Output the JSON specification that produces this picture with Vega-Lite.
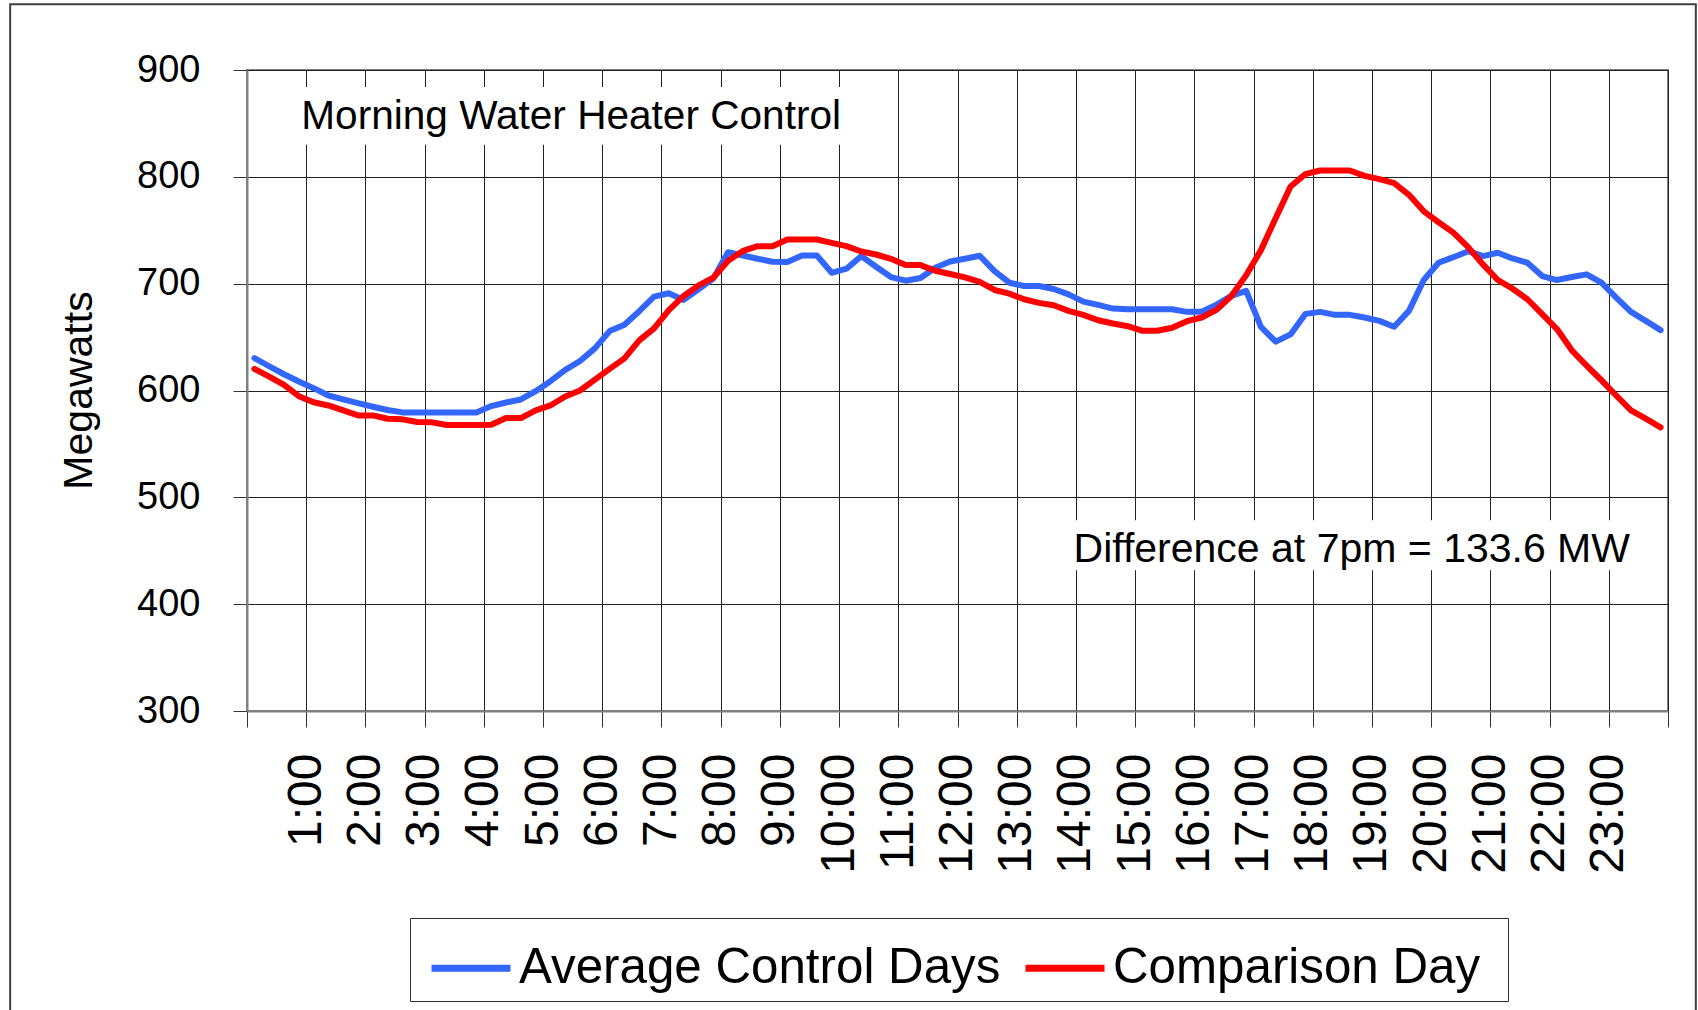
{
  "$schema": "https://vega.github.io/schema/vega-lite/v6.json",
  "width": 1421,
  "height": 641,
  "autosize": {"type": "none"},
  "padding": {"left": 247, "top": 70, "right": 30, "bottom": 299},
  "background": "white",
  "config": {
    "font": "Liberation Sans",
    "view": {"stroke": "#808080", "strokeWidth": 2},
    "axis": {"labelColor": "black", "tickColor": "#333333", "gridColor": "#222222", "gridWidth": 1, "domainColor": "#808080", "domainWidth": 2}
  },
  "layer": [
    {
      "data": {"values": [{}]},
      "mark": {"type": "rect", "fillOpacity": 0, "stroke": "#404040", "strokeWidth": 2},
      "encoding": {
        "x": {"datum": -4.0, "type": "quantitative"},
        "x2": {"datum": 24.47},
        "y": {"datum": 961.5, "type": "quantitative"},
        "y2": {"datum": 0}
      }
    },
    {
      "data": {
        "values": [
          {"t":0.125,"avg":630.4,"cmp":620.2},{"t":0.375,"avg":622.7,"cmp":613},{"t":0.625,"avg":615.2,"cmp":605.3},{"t":0.875,"avg":608.4,"cmp":594.7},
          {"t":1.125,"avg":602.2,"cmp":589},{"t":1.375,"avg":595.3,"cmp":586},{"t":1.625,"avg":591.6,"cmp":581.4},{"t":1.875,"avg":588.2,"cmp":576.7},
          {"t":2.125,"avg":584.8,"cmp":576.7},{"t":2.375,"avg":581.7,"cmp":573.6},{"t":2.625,"avg":579.5,"cmp":573},{"t":2.875,"avg":579.5,"cmp":570.5},
          {"t":3.125,"avg":579.5,"cmp":570.2},{"t":3.375,"avg":579.5,"cmp":567.7},{"t":3.625,"avg":579.5,"cmp":567.7},{"t":3.875,"avg":579.5,"cmp":567.7},
          {"t":4.125,"avg":585.4,"cmp":568},{"t":4.375,"avg":588.8,"cmp":574.2},{"t":4.625,"avg":591.6,"cmp":574.2},{"t":4.875,"avg":599.4,"cmp":581.4},
          {"t":5.125,"avg":608.7,"cmp":586},{"t":5.375,"avg":619.3,"cmp":594.4},{"t":5.625,"avg":627.6,"cmp":600},{"t":5.875,"avg":639.4,"cmp":610.2},
          {"t":6.125,"avg":655.6,"cmp":620.2},{"t":6.375,"avg":661.5,"cmp":630.1},{"t":6.625,"avg":674.2,"cmp":646.9},{"t":6.875,"avg":687.9,"cmp":658.1},
          {"t":7.125,"avg":691,"cmp":675.2},{"t":7.375,"avg":684.8,"cmp":688.5},{"t":7.625,"avg":694.7,"cmp":698.4},{"t":7.875,"avg":704.7,"cmp":705.6},
          {"t":8.125,"avg":729.5,"cmp":721.4},{"t":8.375,"avg":726.4,"cmp":730.7},{"t":8.625,"avg":723.3,"cmp":735.1},{"t":8.875,"avg":720.5,"cmp":735.1},
          {"t":9.125,"avg":720.2,"cmp":741.3},{"t":9.375,"avg":726.4,"cmp":741.3},{"t":9.625,"avg":726.4,"cmp":741.3},{"t":9.875,"avg":710.2,"cmp":738.2},
          {"t":10.125,"avg":714,"cmp":735.1},{"t":10.375,"avg":725.8,"cmp":730.1},{"t":10.625,"avg":715.8,"cmp":727.3},{"t":10.875,"avg":706.2,"cmp":723.3},
          {"t":11.125,"avg":702.8,"cmp":717.4},{"t":11.375,"avg":705.3,"cmp":717.4},{"t":11.625,"avg":714.9,"cmp":712.1},{"t":11.875,"avg":720.8,"cmp":709},
          {"t":12.125,"avg":723.3,"cmp":705.9},{"t":12.375,"avg":726.1,"cmp":701.6},{"t":12.625,"avg":711.8,"cmp":694.1},{"t":12.875,"avg":700.9,"cmp":690.7},
          {"t":13.125,"avg":697.8,"cmp":685.4},{"t":13.375,"avg":697.8,"cmp":682},{"t":13.625,"avg":695,"cmp":679.8},{"t":13.875,"avg":690,"cmp":674.5},
          {"t":14.125,"avg":683.2,"cmp":670.8},{"t":14.375,"avg":680.1,"cmp":665.8},{"t":14.625,"avg":676.7,"cmp":662.7},{"t":14.875,"avg":676.1,"cmp":660.2},
          {"t":15.125,"avg":676.1,"cmp":655.9},{"t":15.375,"avg":676.1,"cmp":655.9},{"t":15.625,"avg":676.1,"cmp":658.7},{"t":15.875,"avg":673.6,"cmp":664.9},
          {"t":16.125,"avg":673.7,"cmp":668.3},{"t":16.375,"avg":680.4,"cmp":675.5},{"t":16.625,"avg":688.5,"cmp":688.5},{"t":16.875,"avg":693.2,"cmp":707.8},
          {"t":17.125,"avg":659.6,"cmp":731.4},{"t":17.375,"avg":645.7,"cmp":761.5},{"t":17.625,"avg":652.5,"cmp":791},{"t":17.875,"avg":671.7,"cmp":802.5},
          {"t":18.125,"avg":673.6,"cmp":805.9},{"t":18.375,"avg":670.8,"cmp":805.9},{"t":18.625,"avg":670.8,"cmp":805.9},{"t":18.875,"avg":668.3,"cmp":800.9},
          {"t":19.125,"avg":665.2,"cmp":797.8},{"t":19.375,"avg":659.6,"cmp":794.1},{"t":19.625,"avg":674.5,"cmp":783.2},{"t":19.875,"avg":703.4,"cmp":767.7},
          {"t":20.125,"avg":719.6,"cmp":757.5},{"t":20.375,"avg":724.8,"cmp":747.8},{"t":20.625,"avg":730.4,"cmp":734.2},{"t":20.875,"avg":725.8,"cmp":718},
          {"t":21.125,"avg":728.9,"cmp":703.4},{"t":21.375,"avg":723.6,"cmp":695.3},{"t":21.625,"avg":719.6,"cmp":685.4},{"t":21.875,"avg":707.1,"cmp":671.4},
          {"t":22.125,"avg":703.4,"cmp":657.5},{"t":22.375,"avg":706.2,"cmp":637.6},{"t":22.625,"avg":708.7,"cmp":623.3},{"t":22.875,"avg":700.9,"cmp":609.6},
          {"t":23.125,"avg":687,"cmp":595.3},{"t":23.375,"avg":673.6,"cmp":581.4},{"t":23.625,"avg":665.2,"cmp":573.6},{"t":23.875,"avg":656.5,"cmp":565.5}
        ]
      },
      "transform": [
        {"fold": ["avg", "cmp"], "as": ["key", "mw"]},
        {"lookup": "key", "from": {"data": {"values": [{"key": "avg", "series": "Average Control Days"}, {"key": "cmp", "series": "Comparison Day"}]}, "key": "key", "fields": ["series"]}}
      ],
      "mark": {"type": "line", "strokeWidth": 6, "strokeJoin": "round", "strokeCap": "round"},
      "encoding": {
        "x": {
          "field": "t", "type": "quantitative",
          "scale": {"domain": [0, 24], "nice": false, "zero": false},
          "axis": {
            "title": null,
            "values": [0,1,2,3,4,5,6,7,8,9,10,11,12,13,14,15,16,17,18,19,20,21,22,23,24],
            "labelExpr": "datum.value >= 1 && datum.value <= 23 ? datum.value + ':00' : ''",
            "labelAngle": -90,
            "labelFontSize": 48,
            "labelPadding": 26,
            "labelOverlap": false,
            "labelFlush": false,
            "tickSize": 16,
            "grid": true
          }
        },
        "y": {
          "field": "mw", "type": "quantitative",
          "scale": {"domain": [300, 900], "nice": false, "zero": false},
          "axis": {
            "title": "Megawatts",
            "titleFontSize": 41,
            "titleFontWeight": "normal",
            "titleColor": "black",
            "titleAngle": -90,
            "titleBaseline": "alphabetic",
            "titleAlign": "center",
            "titleX": -156,
            "titleY": 320,
            "values": [300, 400, 500, 600, 700, 800, 900],
            "labelFontSize": 38,
            "labelPadding": 33,
            "tickSize": 14,
            "grid": true
          }
        },
        "color": {
          "field": "series", "type": "nominal",
          "scale": {"domain": ["Average Control Days", "Comparison Day"], "range": ["#3366FF", "#FF0000"]},
          "legend": {
            "title": ".",
            "titleOrient": "right",
            "titleColor": "white",
            "titleFontSize": 10,
            "titlePadding": 18,
            "orient": "none",
            "legendX": 163,
            "legendY": 848,
            "direction": "horizontal",
            "symbolType": "stroke",
            "symbolSize": 6241,
            "symbolStrokeWidth": 7,
            "symbolOffset": 11,
            "labelFontSize": 49.3,
            "labelColor": "black",
            "labelOffset": 5,
            "labelLimit": 1000,
            "columnPadding": 10,
            "padding": 7,
            "strokeColor": "#333333",
            "fillColor": "white"
          }
        }
      }
    },
    {
      "data": {"values": [{}]},
      "mark": {"type": "rect", "fill": "white"},
      "encoding": {
        "x": {"datum": 0.7, "type": "quantitative"},
        "x2": {"datum": 10.15},
        "y": {"datum": 884, "type": "quantitative"},
        "y2": {"datum": 830}
      }
    },
    {
      "data": {"values": [{}]},
      "mark": {"type": "text", "text": "Morning Water Heater Control", "fontSize": 40.6, "align": "left", "baseline": "alphabetic", "color": "black"},
      "encoding": {
        "x": {"datum": 0.917, "type": "quantitative"},
        "y": {"datum": 844.5, "type": "quantitative"}
      }
    },
    {
      "data": {"values": [{}]},
      "mark": {"type": "rect", "fill": "white"},
      "encoding": {
        "x": {"datum": 13.75, "type": "quantitative"},
        "x2": {"datum": 23.6},
        "y": {"datum": 478.6, "type": "quantitative"},
        "y2": {"datum": 431.8}
      }
    },
    {
      "data": {"values": [{}]},
      "mark": {"type": "text", "text": "Difference at 7pm = 133.6 MW", "fontSize": 41, "align": "left", "baseline": "alphabetic", "color": "black"},
      "encoding": {
        "x": {"datum": 13.96, "type": "quantitative"},
        "y": {"datum": 439.5, "type": "quantitative"}
      }
    }
  ]
}
